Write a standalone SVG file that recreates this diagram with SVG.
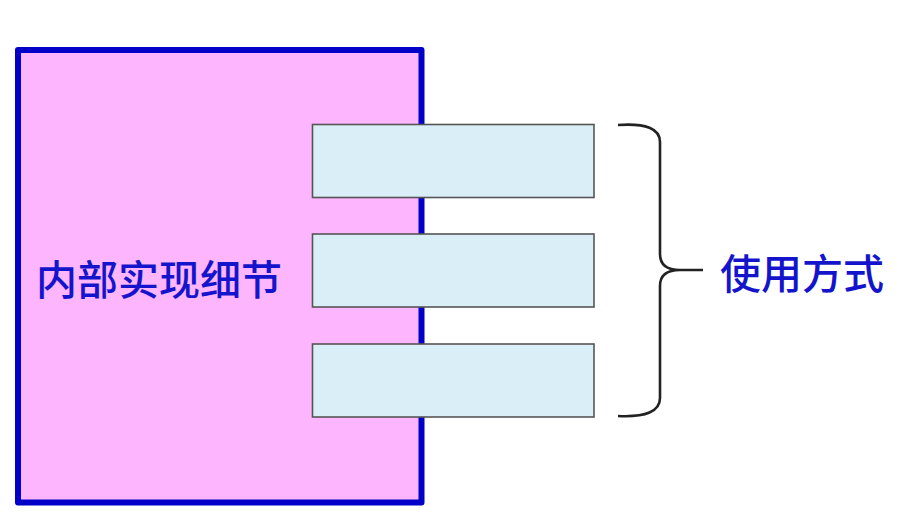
<svg xmlns="http://www.w3.org/2000/svg" width="908" height="526" viewBox="0 0 908 526">
<style>
.iface{fill:#DAEEF8;stroke:#555;stroke-width:1.6}
.lbl{font-family:"Noto Sans CJK SC","Noto Sans CJK TC",sans-serif;fill:#1414CC;font-size:41px;font-weight:500;dominant-baseline:central}
</style>
<rect width="908" height="526" fill="#fff"/>
<g id="impl">
<rect x="18" y="50" width="403.5" height="452.5" fill="#FDB5FD" stroke="#0000C8" stroke-width="6" stroke-linejoin="round"/>
<text class="lbl" x="36" y="277">内部实现细节</text>
</g>
<g id="iface1"><rect class="iface" x="312.5" y="124.5" width="281.5" height="73"/></g>
<g id="iface2"><rect class="iface" x="312.5" y="234" width="281.5" height="73"/></g>
<g id="iface3"><rect class="iface" x="312.5" y="344" width="281.5" height="73"/></g>
<g id="connectors">
<path d="M618,125 Q660,122 660,142 L660,254 Q660,270 680,270 L703,270 M680,270 Q660,270 660,286 L660,398 Q660,418 618,416" fill="none" stroke="#222" stroke-width="2.6"/>
</g>
<g id="usage">
<text class="lbl" x="720" y="271">使用方式</text>
</g>
</svg>
